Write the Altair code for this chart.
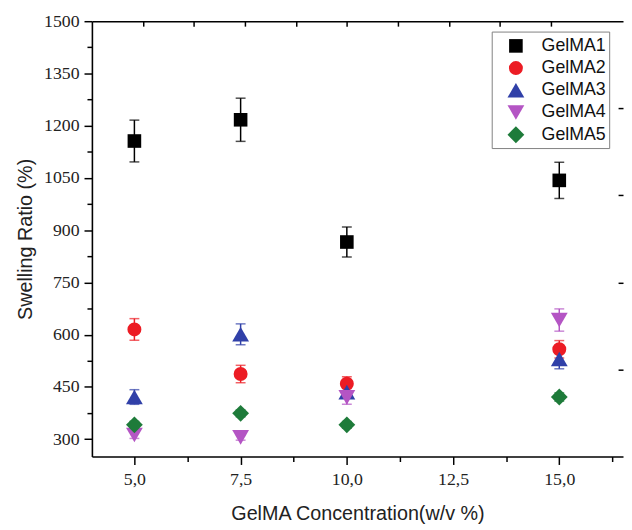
import altair as alt
import pandas as pd

conc = [5.0, 7.5, 10.0, 15.0]
series_names = ["GelMA1", "GelMA2", "GelMA3", "GelMA4", "GelMA5"]
gelma1 = [1156, 1217, 866, 1043]
err1 = [60, 62, 43, 52]
gelma2 = [615, 487, 459, 558]
err2 = [31, 25, 20, 25]
gelma3 = [421, 601, 435, 530]
err3 = [21, 30, 15, 28]
gelma4 = [312, 305, 420, 642]
err4 = [10, 8, 20, 32]
gelma5 = [341, 374, 341, 421]
err5 = [10, 10, 10, 12]

colors = ["#000000", "#ec1c24", "#3040a8", "#b455c4", "#1e7b3a"]
shapes = ["square", "circle", "triangle-up", "triangle-down", "diamond"]
sizes = [190, 200, 290, 290, 290]

y_major = [300, 450, 600, 750, 900, 1050, 1200, 1350, 1500]
y_minor = [375, 525, 675, 825, 975, 1125, 1275, 1425]
x_ticks = [5.0, 6.25, 7.5, 8.75, 10.0, 11.25, 12.5, 13.75, 15.0, 16.25]
top_ticks = [5.2, 6.4, 7.6, 8.8, 10.0, 11.2, 12.4, 13.6, 14.8]
right_ticks = [500, 750, 1000, 1250]

rows = []
for name, vals, errs in zip(series_names,
                            [gelma1, gelma2, gelma3, gelma4, gelma5],
                            [err1, err2, err3, err4, err5]):
    for c, v, e in zip(conc, vals, errs):
        rows.append({"series": name, "conc": c, "val": v, "lo": v - e, "hi": v + e})
df = pd.DataFrame(rows)
legend_df = pd.DataFrame({"series": series_names})
box_df = pd.DataFrame({"k": [0]})

xscale = alt.Scale(domain=[4, 16.5], nice=False, zero=False)
yscale = alt.Scale(domain=[250, 1500], nice=False, zero=False)
cscale = alt.Scale(domain=series_names, range=colors)
shscale = alt.Scale(domain=series_names, range=shapes)
szscale = alt.Scale(type="ordinal", domain=series_names, range=sizes)
leg_y = alt.Scale(type="point", domain=series_names, range=[25, 115], padding=0)

serif = "Liberation Serif"
sans = "Liberation Sans"

x_axis = alt.Axis(
    values=x_ticks,
    labelExpr="datum.value % 2.5 == 0 ? replace(format(datum.value, '.1f'), '.', ',') : ''",
    tickSize={"condition": {"test": "datum.value % 2.5 == 0", "value": 8}, "value": 5},
    tickColor="black", tickWidth=1.5, domainColor="black", domainWidth=1.6,
    labelFont=serif, labelFontSize=18, labelColor="#222", labelPadding=6,
    titleFont=sans, titleFontSize=20, titleFontWeight="normal", titleColor="#222",
    titlePadding=16, grid=False,
)
y_axis = alt.Axis(
    values=y_major + y_minor,
    format="d",
    labelExpr="datum.value % 150 == 0 ? datum.label : ''",
    tickSize={"condition": {"test": "datum.value % 150 == 0", "value": 8}, "value": 5},
    tickColor="black", tickWidth=1.5, domainColor="black", domainWidth=1.6,
    labelFont=serif, labelFontSize=18, labelColor="#222", labelPadding=5,
    titleFont=sans, titleFontSize=20, titleFontWeight="normal", titleColor="#222",
    titlePadding=8, grid=False,
)

base = alt.Chart(df)

rules = base.mark_rule(strokeWidth=1.5).encode(
    x=alt.X("conc:Q", scale=xscale, axis=None),
    y=alt.Y("lo:Q", scale=yscale, axis=None),
    y2="hi:Q",
    stroke=alt.Stroke("series:N", scale=cscale, legend=None),
)
cap_lo = base.mark_tick(orient="horizontal", size=10, thickness=1.5).encode(
    x=alt.X("conc:Q", scale=xscale, axis=None),
    y=alt.Y("lo:Q", scale=yscale, axis=None),
    fill=alt.Fill("series:N", scale=cscale, legend=None),
)
cap_hi = base.mark_tick(orient="horizontal", size=10, thickness=1.5).encode(
    x=alt.X("conc:Q", scale=xscale, axis=None),
    y=alt.Y("hi:Q", scale=yscale, axis=None),
    fill=alt.Fill("series:N", scale=cscale, legend=None),
)
points = base.mark_point(filled=True, opacity=1).encode(
    x=alt.X("conc:Q", scale=xscale, axis=x_axis, title="GelMA Concentration(w/v %)"),
    y=alt.Y("val:Q", scale=yscale, axis=y_axis, title="Swelling Ratio (%)"),
    color=alt.Color("series:N", scale=cscale, legend=None),
    shape=alt.Shape("series:N", scale=shscale, legend=None),
    size=alt.Size("series:N", scale=szscale, legend=None),
)

frame = base.mark_point(opacity=0).encode(
    x=alt.X("conc:Q", scale=xscale, axis=alt.Axis(orient="top", domain=True, ticks=False,
            labels=False, title=None, grid=False, domainColor="black", domainWidth=1.6)),
    y=alt.Y("val:Q", scale=yscale, axis=alt.Axis(orient="right", offset=-5, domain=False,
            ticks=True, tickSize=5, tickColor="black", tickWidth=1.5, values=right_ticks,
            labels=False, title=None, grid=False)),
)
topticks = base.mark_point(opacity=0).encode(
    x=alt.X("conc:Q", scale=xscale, axis=alt.Axis(orient="top", offset=-5, domain=False,
            tickSize=5, tickColor="black", tickWidth=1.5, values=top_ticks,
            labels=False, title=None, grid=False)),
    y=alt.Y("val:Q", scale=yscale, axis=None),
)

# legend (drawn as marks: box, symbols, labels)
leg_box = alt.Chart(box_df).mark_rect(fill="white", stroke="#808080", strokeWidth=1).encode(
    x=alt.value(405.5), x2=alt.value(524.5), y=alt.value(11), y2=alt.value(129),
)
leg_sym = alt.Chart(legend_df).mark_point(filled=True, opacity=1).encode(
    x=alt.value(429.5),
    y=alt.Y("series:N", scale=leg_y, axis=None),
    color=alt.Color("series:N", scale=cscale, legend=None),
    shape=alt.Shape("series:N", scale=shscale, legend=None),
    size=alt.Size("series:N", scale=szscale, legend=None),
)
leg_txt = alt.Chart(legend_df).mark_text(
    align="left", baseline="middle", font=sans, fontSize=18, color="#111"
).encode(
    x=alt.value(455.5),
    y=alt.Y("series:N", scale=leg_y, axis=None),
    text="series:N",
)

chart = alt.layer(
    rules, cap_lo, cap_hi, points, frame, topticks, leg_box, leg_sym, leg_txt
).resolve_scale(y="independent").resolve_axis(
    x="independent", y="independent"
).properties(
    width=538, height=441,
    autosize=alt.AutoSizeParams(type="none"),
    padding={"left": 85, "top": 10, "right": 1, "bottom": 70},
).configure_view(stroke=None)

chart.save("out.html", embed_options={"renderer": "svg", "actions": False})
